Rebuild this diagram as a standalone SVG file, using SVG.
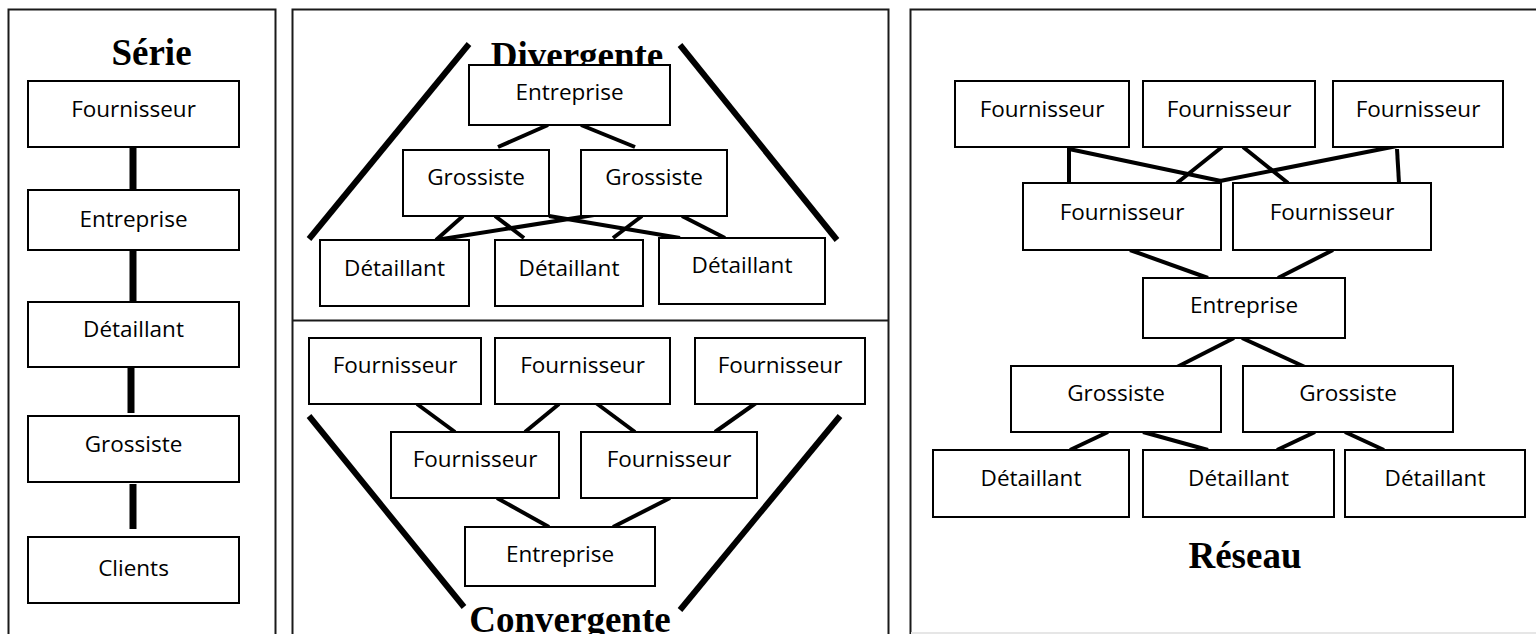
<svg xmlns="http://www.w3.org/2000/svg" width="1536" height="634" viewBox="0 0 1536 634">
<style>
.frame{fill:none;stroke:#1a1a1a;stroke-width:2}
.box rect{fill:#fff;stroke:#000;stroke-width:2}
.box text{font-family:"Open Sans","Liberation Sans",sans-serif;font-size:22.5px;fill:#000;text-anchor:middle}
.title{font-family:"Liberation Serif",serif;font-weight:bold;font-size:37px;fill:#000;text-anchor:middle}
.c line{stroke:#000;stroke-width:4;stroke-linecap:butt}
.c .v{stroke-width:7}
.c .s{stroke-width:6}
</style>
<rect width="1536" height="634" fill="#fff"/>
<g id="frames">
<path class="frame" d="M8.5,640 V9.5 H275.5 V640"/>
<path class="frame" d="M292.5,640 V9.5 H888.5 V640 M292.5,320.5 H888.5"/>
<path class="frame" d="M910.5,640 V9.5 H1536"/>
<line x1="911" y1="633" x2="1536" y2="633" stroke="#e6e6e6" stroke-width="2"/>
</g>
<g id="titles">
<text class="title" x="151.5" y="65">Série</text>
<text class="title" x="577" y="68">Divergente</text>
<text class="title" x="570" y="632">Convergente</text>
<text class="title" x="1245" y="568">Réseau</text>
</g>
<g id="connectors" class="c">
<line class="v" x1="133" y1="147" x2="133" y2="190"/>
<line class="v" x1="133" y1="250" x2="133" y2="302"/>
<line class="v" x1="131" y1="368" x2="131" y2="413"/>
<line class="v" x1="133" y1="484" x2="133" y2="529"/>
<line x1="548" y1="125" x2="498" y2="147"/>
<line x1="581" y1="125" x2="635" y2="147"/>
<line x1="463" y1="216" x2="436" y2="240"/>
<line x1="495" y1="216" x2="524" y2="238"/>
<line x1="549" y1="216" x2="680" y2="238"/>
<line x1="594" y1="215" x2="436" y2="240"/>
<line x1="642" y1="216" x2="613" y2="238"/>
<line x1="682" y1="216" x2="725" y2="238"/>
<line class="s" x1="469" y1="44" x2="309" y2="239"/>
<line class="s" x1="680" y1="45" x2="837" y2="240"/>
<line x1="417" y1="404" x2="455" y2="432"/>
<line x1="559" y1="404" x2="525" y2="432"/>
<line x1="596" y1="403" x2="635" y2="432"/>
<line x1="756" y1="403" x2="715" y2="432"/>
<line x1="497" y1="498" x2="549" y2="527"/>
<line x1="670" y1="498" x2="613" y2="527"/>
<line class="s" x1="309" y1="416" x2="464" y2="607"/>
<line class="s" x1="840" y1="416" x2="680" y2="610"/>
<line x1="1069" y1="147" x2="1069" y2="183"/>
<line x1="1069" y1="149" x2="1221" y2="181"/>
<line x1="1222" y1="147" x2="1177" y2="183"/>
<line x1="1243" y1="147" x2="1288" y2="183"/>
<line x1="1397" y1="146" x2="1220" y2="181"/>
<line x1="1397" y1="149" x2="1399" y2="183"/>
<line x1="1130" y1="250" x2="1208" y2="278"/>
<line x1="1333" y1="250" x2="1278" y2="278"/>
<line x1="1234" y1="338" x2="1177" y2="367"/>
<line x1="1242" y1="338" x2="1305" y2="367"/>
<line x1="1108" y1="432" x2="1070" y2="450"/>
<line x1="1143" y1="432" x2="1208" y2="450"/>
<line x1="1315" y1="432" x2="1277" y2="450"/>
<line x1="1345" y1="432" x2="1384" y2="450"/>
</g>
<g id="s-fournisseur" class="box"><rect x="28" y="81" width="211" height="66"/><text x="133.5" y="117">Fournisseur</text></g>
<g id="s-entreprise" class="box"><rect x="28" y="190" width="211" height="60"/><text x="133.5" y="227">Entreprise</text></g>
<g id="s-detaillant" class="box"><rect x="28" y="302" width="211" height="65"/><text x="133.5" y="337">Détaillant</text></g>
<g id="s-grossiste" class="box"><rect x="28" y="416" width="211" height="66"/><text x="133.5" y="452">Grossiste</text></g>
<g id="s-clients" class="box"><rect x="28" y="537" width="211" height="66"/><text x="133.5" y="576">Clients</text></g>
<g id="d-entreprise" class="box"><rect x="469" y="65" width="201" height="60"/><text x="569.5" y="100">Entreprise</text></g>
<g id="d-grossiste1" class="box"><rect x="403" y="150" width="146" height="66"/><text x="476" y="185">Grossiste</text></g>
<g id="d-grossiste2" class="box"><rect x="581" y="150" width="146" height="66"/><text x="654" y="185">Grossiste</text></g>
<g id="d-detaillant1" class="box"><rect x="320" y="240" width="149" height="66"/><text x="394.5" y="276">Détaillant</text></g>
<g id="d-detaillant2" class="box"><rect x="495" y="240" width="148" height="66"/><text x="569" y="276">Détaillant</text></g>
<g id="d-detaillant3" class="box"><rect x="659" y="238" width="166" height="66"/><text x="742" y="273">Détaillant</text></g>
<g id="c-fournisseur1" class="box"><rect x="309" y="338" width="172" height="66"/><text x="395" y="373">Fournisseur</text></g>
<g id="c-fournisseur2" class="box"><rect x="495" y="338" width="175" height="66"/><text x="582.5" y="373">Fournisseur</text></g>
<g id="c-fournisseur3" class="box"><rect x="695" y="338" width="170" height="66"/><text x="780" y="373">Fournisseur</text></g>
<g id="c-fournisseur4" class="box"><rect x="391" y="432" width="168" height="66"/><text x="475" y="467">Fournisseur</text></g>
<g id="c-fournisseur5" class="box"><rect x="581" y="432" width="176" height="66"/><text x="669" y="467">Fournisseur</text></g>
<g id="c-entreprise" class="box"><rect x="465" y="527" width="190" height="59"/><text x="560" y="562">Entreprise</text></g>
<g id="r-fournisseur1" class="box"><rect x="955" y="81" width="174" height="66"/><text x="1042" y="117">Fournisseur</text></g>
<g id="r-fournisseur2" class="box"><rect x="1143" y="81" width="172" height="66"/><text x="1229" y="117">Fournisseur</text></g>
<g id="r-fournisseur3" class="box"><rect x="1333" y="81" width="170" height="66"/><text x="1418" y="117">Fournisseur</text></g>
<g id="r-fournisseur4" class="box"><rect x="1023" y="183" width="198" height="67"/><text x="1122" y="220">Fournisseur</text></g>
<g id="r-fournisseur5" class="box"><rect x="1233" y="183" width="198" height="67"/><text x="1332" y="220">Fournisseur</text></g>
<g id="r-entreprise" class="box"><rect x="1143" y="278" width="202" height="60"/><text x="1244" y="313">Entreprise</text></g>
<g id="r-grossiste1" class="box"><rect x="1011" y="366" width="210" height="66"/><text x="1116" y="401">Grossiste</text></g>
<g id="r-grossiste2" class="box"><rect x="1243" y="366" width="210" height="66"/><text x="1348" y="401">Grossiste</text></g>
<g id="r-detaillant1" class="box"><rect x="933" y="450" width="196" height="67"/><text x="1031" y="486">Détaillant</text></g>
<g id="r-detaillant2" class="box"><rect x="1143" y="450" width="191" height="67"/><text x="1238.5" y="486">Détaillant</text></g>
<g id="r-detaillant3" class="box"><rect x="1345" y="450" width="180" height="67"/><text x="1435" y="486">Détaillant</text></g>
</svg>
